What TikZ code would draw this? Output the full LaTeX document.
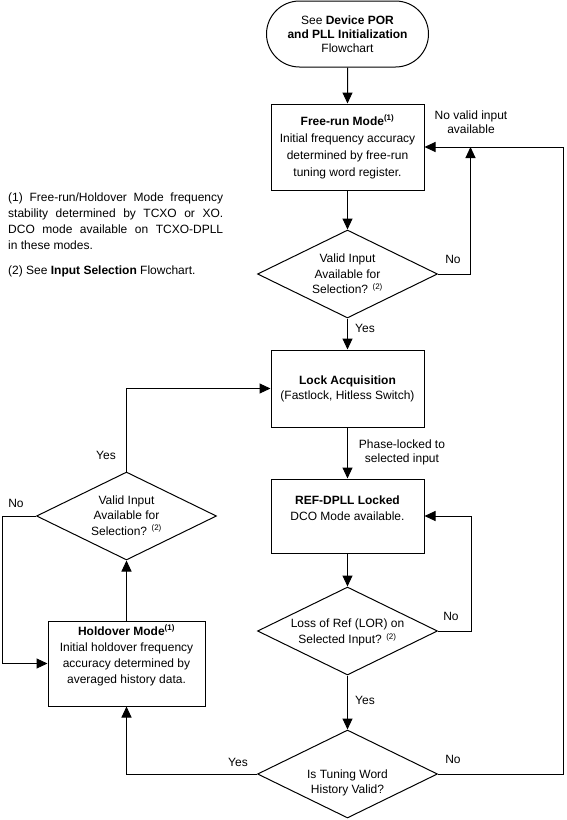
\documentclass[tikz,border=0pt]{standalone}
\usepackage{fontspec}
\setmainfont{Liberation Sans}
\usetikzlibrary{shapes.geometric,shapes.misc,arrows.meta}
\begin{document}
\begin{tikzpicture}[x=1pt,y=-1pt,
  every node/.style={font=\fontsize{12}{16}\selectfont},
  box/.style={draw,line width=1pt,minimum width=153pt,align=center,inner sep=0pt},
  dia/.style={draw,diamond,line width=1pt,minimum width=180pt,minimum height=88pt,inner sep=0pt},
  term/.style={draw,rounded rectangle,line width=1pt,minimum width=162pt,minimum height=66pt,align=center,inner sep=0pt,font=\fontsize{12}{14}\selectfont},
  dtxt/.style={align=center,inner sep=0pt,font=\fontsize{12}{15.5}\selectfont},
  btxt/.style={align=center,inner sep=0pt,font=\fontsize{12}{16}\selectfont},
  lbl/.style={align=center,inner sep=0pt,font=\fontsize{12}{14}\selectfont},
  arr/.style={-{Triangle[length=11pt,width=10pt]},line width=1pt}
]
\useasboundingbox (0,0) rectangle (566,820);

% nodes
\node[term] (start) at (347.5,34) {See \textbf{Device POR}\\\textbf{and PLL Initialization}\\Flowchart};
\node[box,minimum height=86pt,font=\fontsize{12}{17}\selectfont] (free) at (347.5,147) {\textbf{Free-run Mode\textsuperscript{(1)}}\\Initial frequency accuracy\\determined by free-run\\tuning word register.};
\node[dia] (d1) at (347.5,274) {};
\node[dtxt] (d1t) at (347.5,274) {Valid Input\\Available for\\Selection? \textsuperscript{(2)}};
\node[box,minimum height=77pt,font=\fontsize{12}{15}\selectfont] (lock) at (347.5,388.5) {\textbf{Lock Acquisition}\\(Fastlock, Hitless Switch)};
\node[box,minimum height=74pt] (ref) at (347.5,516) {};
\node[btxt] (reft) at (347.5,508) {\textbf{REF-DPLL Locked}\\DCO Mode available.};
\node[dia] (d3) at (347.5,631) {};
\node[dtxt] (d3t) at (347.5,632.5) {Loss of Ref (LOR) on\\Selected Input? \textsuperscript{(2)}};
\node[dia] (d4) at (347.5,774) {};
\node[dtxt] (d4t) at (347.5,783) {Is Tuning Word\\History Valid?};
\node[dia] (d2) at (126.5,516) {};
\node[dtxt] (d2t) at (126.5,515.5) {Valid Input\\Available for\\Selection? \textsuperscript{(2)}};
\node[box,minimum width=157pt,minimum height=85pt] (hold) at (126.5,663.5) {};
\node[btxt] (holdt) at (126.5,655.5) {\textbf{Holdover Mode\textsuperscript{(1)}}\\Initial holdover frequency\\accuracy determined by\\averaged history data.};

% notes
\node[anchor=north west,text width=215pt,align=justify,inner sep=0pt,font=\fontsize{12}{16}\selectfont] (note1) at (8,193)
 {(1) Free-run/Holdover Mode frequency\linebreak stability determined by TCXO or XO.\linebreak DCO mode available on TCXO-DPLL\linebreak in these modes.};
\node[anchor=base west,inner sep=0pt] (note2) at (8,274.5) {(2) See \textbf{Input Selection} Flowchart.};

% labels
\node[lbl] (l1) at (471,122) {No valid input\\available};
\node[lbl] (l2) at (453,259) {No};
\node[lbl] (l3) at (365,328) {Yes};
\node[lbl] (l4) at (402,452) {Phase-locked to\\selected input};
\node[lbl] (l5) at (106,455) {Yes};
\node[lbl] (l6) at (16,503) {No};
\node[lbl] (l7) at (451,616) {No};
\node[lbl] (l8) at (365,700) {Yes};
\node[lbl] (l9) at (453,759) {No};
\node[lbl] (l10) at (238,762) {Yes};

% junction coordinates
\coordinate (jr) at (563.5,147);
\coordinate (jm) at (470.5,147);

% connectors
\draw[arr] (start) -- (free);
\draw[arr] (free) -- (d1);
\draw[arr] (d1) -- (lock);
\draw[arr] (d1.east) -| (jm);
\draw[arr] (d4.east) -| (jr) -- (free.east);
\draw[arr] (lock) -- (ref);
\draw[arr] (ref) -- (d3);
\draw[arr] (d3.east) -- ++(33,0) |- (ref.east);
\draw[arr] (d3) -- (d4);
\draw[arr] (d4.west) -| (hold.south);
\draw[arr] (hold) -- (d2);
\draw[arr] (d2.north) |- (lock.west);
\draw[arr] (d2.west) -- ++(-34,0) |- (hold.west);
\end{tikzpicture}
\end{document}
